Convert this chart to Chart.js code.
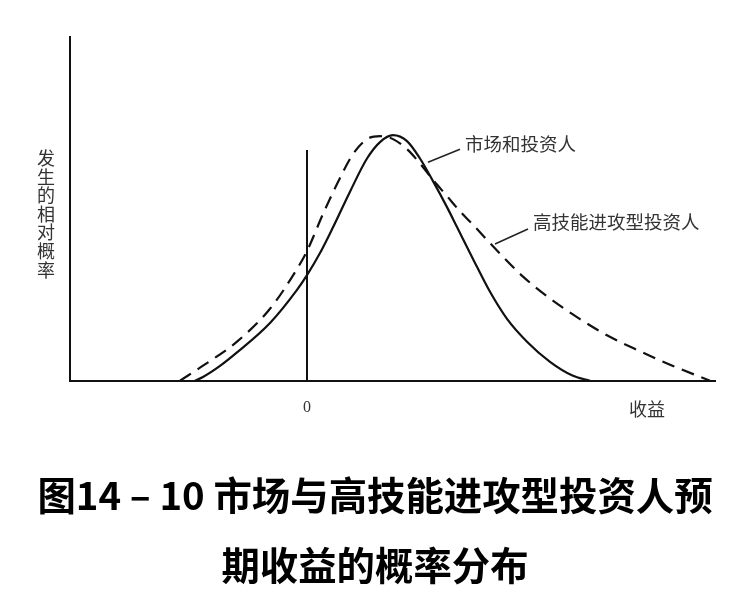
<!DOCTYPE html>
<html>
<head>
<meta charset="utf-8">
<script src="https://cdn.jsdelivr.net/npm/chart.js@4.4.1/dist/chart.umd.min.js"></script>
<style>
  html, body { margin: 0; padding: 0; background: #fff; }
  #wrap { width: 750px; height: 601px; }
</style>
</head>
<body>
<div id="wrap"><canvas id="chart" width="750" height="601"></canvas></div>
<script>
// returns (x) vs relative probability (y)
const incomeMarket = [-1.12, -1.04, -0.87, -0.70, -0.37, -0.10, 0, 0.13, 0.26, 0.43, 0.60, 0.73, 0.86, 1.00, 1.13, 1.26, 1.40, 1.50, 1.66, 1.83, 2.00, 2.20, 2.43, 2.66, 2.83];
const probMarket = [0, 0.015, 0.060, 0.115, 0.235, 0.370, 0.430, 0.520, 0.625, 0.770, 0.905, 0.972, 1.0, 0.976, 0.905, 0.813, 0.707, 0.626, 0.496, 0.362, 0.252, 0.159, 0.077, 0.020, 0];

const incomeSkilled = [-1.27, -1.04, -0.70, -0.37, -0.10, 0, 0.16, 0.30, 0.46, 0.60, 0.73, 0.86, 1.00, 1.13, 1.26, 1.40, 1.53, 1.66, 1.90, 2.16, 2.43, 2.73, 3.00, 3.33, 3.66, 4.03];
const probSkilled = [0, 0.061, 0.159, 0.293, 0.455, 0.528, 0.679, 0.801, 0.923, 0.984, 0.996, 0.984, 0.943, 0.885, 0.818, 0.752, 0.690, 0.635, 0.530, 0.424, 0.335, 0.251, 0.185, 0.120, 0.060, 0];

const zeroLineTop = 0.94;
const seriesLabels = ['市场和投资人', '高技能进攻型投资人'];
const labelAnchors = [[1.58, 0.963], [2.26, 0.646]];
const leaderMarket = [[1.21, 0.890], [1.53, 0.943]];
const leaderSkilled = [[1.88, 0.557], [2.21, 0.618]];
const xTickLabels = ['0', '收益'];
const xTickValues = [0, 3.40];
const yTitle = '发生的相对概率';
const titleLines = ['图14 – 10 市场与高技能进攻型投资人预', '期收益的概率分布'];

const toPoints = (xs, ys) => xs.map((x, i) => ({ x: x, y: ys[i] }));
const pairPoints = pts => pts.map(p => ({ x: p[0], y: p[1] }));

const textPlugin = {
  id: 'textLabels',
  afterDatasetsDraw(chart) {
    const ctx = chart.ctx;
    const x = chart.scales.x;
    const y = chart.scales.y;
    const area = chart.chartArea;
    ctx.save();
    ctx.fillStyle = '#333';
    ctx.textBaseline = 'middle';

    ctx.font = '18.5px "Noto Sans CJK SC"';
    ctx.textAlign = 'left';
    seriesLabels.forEach((t, i) => {
      ctx.fillText(t, x.getPixelForValue(labelAnchors[i][0]), y.getPixelForValue(labelAnchors[i][1]));
    });

    ctx.textAlign = 'center';
    ctx.font = '16px "Liberation Serif"';
    ctx.fillText(xTickLabels[0], x.getPixelForValue(xTickValues[0]), area.bottom + 27);
    ctx.font = '18px "Noto Sans CJK SC"';
    ctx.fillText(xTickLabels[1], x.getPixelForValue(xTickValues[1]), area.bottom + 28);

    // vertical y-axis title, one character per row
    const chars = Array.from(yTitle);
    const step = 18.6;
    const cy = y.getPixelForValue(0.679);
    chars.forEach((c, i) => {
      ctx.fillText(c, area.left - 24, cy + (i - (chars.length - 1) / 2) * step);
    });
    ctx.restore();
  }
};

const ctx = document.getElementById('chart').getContext('2d');
new Chart(ctx, {
  type: 'line',
  data: {
    datasets: [
      {
        label: seriesLabels[0],
        data: toPoints(incomeMarket, probMarket),
        borderColor: '#111',
        borderWidth: 2.2,
        cubicInterpolationMode: 'monotone',
        pointRadius: 0,
        fill: false
      },
      {
        label: seriesLabels[1],
        data: toPoints(incomeSkilled, probSkilled),
        borderColor: '#111',
        borderWidth: 2.2,
        borderDash: [13, 8],
        cubicInterpolationMode: 'monotone',
        pointRadius: 0,
        fill: false
      },
      {
        label: 'zero',
        data: [{ x: 0, y: 0 }, { x: 0, y: zeroLineTop }],
        borderColor: '#111',
        borderWidth: 2,
        pointRadius: 0
      },
      {
        label: 'leader1',
        data: pairPoints(leaderMarket),
        borderColor: '#222',
        borderWidth: 1.5,
        pointRadius: 0
      },
      {
        label: 'leader2',
        data: pairPoints(leaderSkilled),
        borderColor: '#222',
        borderWidth: 1.5,
        pointRadius: 0
      }
    ]
  },
  options: {
    responsive: false,
    animation: false,
    layout: { padding: { top: 37, left: 0, right: 0, bottom: 0 } },
    scales: {
      x: {
        type: 'linear',
        min: -2.37,
        max: 4.08,
        grid: { display: false, drawTicks: false },
        ticks: { display: false },
        border: { display: true, color: '#111', width: 2 },
        afterFit: scale => { scale.height = 79; }
      },
      y: {
        min: 0,
        max: 1.40,
        grid: { display: false, drawTicks: false },
        ticks: { display: false },
        border: { display: true, color: '#111', width: 2 },
        afterFit: scale => { scale.width = 70; }
      },
      y2: {
        position: 'right',
        grid: { display: false, drawTicks: false },
        ticks: { display: false },
        border: { display: false },
        afterFit: scale => { scale.width = 35; }
      }
    },
    plugins: {
      legend: { display: false },
      tooltip: { enabled: false },
      title: {
        display: true,
        position: 'bottom',
        text: titleLines,
        color: '#000',
        font: { family: '"Noto Sans CJK SC"', size: 38.4, weight: 'bold', lineHeight: 1.84 },
        padding: { top: 0, bottom: 0 }
      }
    }
  },
  plugins: [textPlugin]
});
</script>
</body>
</html>
